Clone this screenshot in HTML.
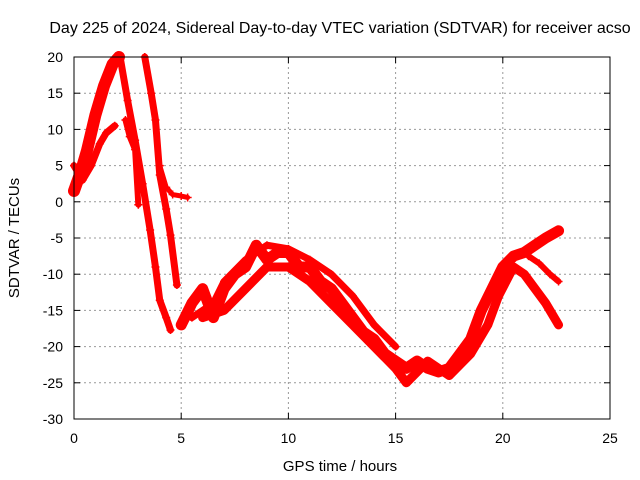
<!DOCTYPE html>
<html><head><meta charset="utf-8"><style>
body{margin:0;background:#fff}
svg{display:block;font-family:"Liberation Sans",sans-serif}
</style></head><body>
<svg id="chart" width="640" height="480" viewBox="0 0 640 480">
<rect width="640" height="480" fill="#fff"/>
<text x="340" y="33" font-size="16" text-anchor="middle">Day 225 of 2024, Sidereal Day-to-day VTEC variation (SDTVAR) for receiver acso</text>
<g id="grid"></g><g id="ticks"></g><g id="series"></g>
<rect x="74" y="57" width="536" height="362" fill="none" stroke="#000" stroke-width="1"/>
<text x="340" y="471" font-size="15" text-anchor="middle">GPS time / hours</text>
<text x="0" y="0" font-size="15" text-anchor="middle" transform="translate(19,238) rotate(-90)">SDTVAR / TECUs</text>
</svg>
<script>
const xTicks=[0,5,10,15,20,25];
const yTicks=[20,15,10,5,0,-5,-10,-15,-20,-25,-30];
const sA_h=[0,0.3,0.6,1.0,1.4,1.8,2.1];
const sA_v=[1.5,4,7,12,16,19,20];
const sA2_h=[0,0.4,0.8,1.2,1.5,1.9];
const sA2_v=[5,3,5,8,9.5,10.5];
const sB_h=[2.15,2.5,2.85,3.2,3.55,3.8,4.0,4.3,4.5];
const sB_v=[20,14,8.5,2.5,-3.9,-9,-13.6,-16,-17.7];
const sC_h=[3.3,3.6,3.8,4.0,4.3,4.5,4.8];
const sC_v=[20,15,11.3,3.7,-1,-4.6,-11.5];
const sD_h=[2.4,2.6,2.85,3.0];
const sD_v=[11.3,9,7.2,-0.4];
const sE_h=[4.0,4.3,4.6,5.0,5.3];
const sE_v=[5,2,1,0.8,0.6];
const sF_h=[5,5.5,6,6.5,7,7.5,8,8.5,9,9.5,10,10.5,11,11.5,12,12.5,13,13.5,14,14.5,15,15.5,16,16.5,17,17.5,18,18.5,19,19.5,20,20.5,21,21.5,22,22.6];
const sF_v=[-17,-14,-12,-16,-12,-10,-9,-6,-8,-7,-7,-9,-9,-11,-12,-14,-16,-18,-19,-21,-22,-23,-22,-23,-23.5,-23,-21,-19,-15,-12,-9,-7.5,-7,-6,-5,-4];
const sG_h=[6,7,8,9,10,11,12,13,14,15,15.5,16.5,17.5,18.5,19.3,19.8,20.5,21,21.5,22,22.6];
const sG_v=[-16,-15,-12,-9,-9,-11,-14,-17,-20,-23,-25,-22,-24,-21,-17,-13,-9,-10,-12,-14,-17];
const sH_h=[21.2,21.7,22.2,22.6];
const sH_v=[-7.5,-8.5,-10,-11];
const sI_h=[5.5,6.5,7,8,9,10,11,12,13,14,15];
const sI_v=[-16,-14,-11,-8,-6,-6.5,-8,-10,-13,-17,-20];
const allSeries=[[sA_h,sA_v,12],[sA2_h,sA2_v,7],[sB_h,sB_v,7],[sC_h,sC_v,7],[sD_h,sD_v,6],[sE_h,sE_v,5],[sF_h,sF_v,11],[sG_h,sG_v,9],[sH_h,sH_v,6],[sI_h,sI_v,7]];
const X=h=>74+h*536/25, Y=v=>57+(20-v)*362/50;
const NS="http://www.w3.org/2000/svg";
function mk(t,a,p){const e=document.createElementNS(NS,t);for(const k in a)e.setAttribute(k,a[k]);p.appendChild(e);return e;}
const grid=document.getElementById('grid'),ticks=document.getElementById('ticks'),ser=document.getElementById('series');
xTicks.forEach(t=>{const x=X(t);
 if(t>0&&t<25){const l=mk('line',{x1:x,y1:57,x2:x,y2:419,stroke:'#999','stroke-dasharray':'2,3'},grid);
 
 }
 const tx=mk('text',{x:x,y:443,'font-size':14,'text-anchor':'middle'},ticks);tx.textContent=t;
 
 
 mk('line',{x1:x,y1:419,x2:x,y2:413,stroke:'#000'},ticks);mk('line',{x1:x,y1:57,x2:x,y2:63,stroke:'#000'},ticks);});
yTicks.forEach(t=>{const y=Y(t);
 if(t<20&&t>-30){const l=mk('line',{x1:74,y1:y,x2:610,y2:y,stroke:'#999','stroke-dasharray':'2,3'},grid);
 
 }
 const tx=mk('text',{x:63,y:y+5,'font-size':14,'text-anchor':'end'},ticks);tx.textContent=t;
 
 
 mk('line',{x1:74,y1:y,x2:80,y2:y,stroke:'#000'},ticks);mk('line',{x1:610,y1:y,x2:604,y2:y,stroke:'#000'},ticks);});
allSeries.forEach(([hs,vs,w],i)=>{
 const pts=hs.map((h,j)=>X(h)+','+Y(vs[j])).join(' ');
 const pl=mk('polyline',{points:pts,fill:'none',stroke:'#f00','stroke-width':w,'stroke-linejoin':'round','stroke-linecap':'round'},ser);
 
 
 hs.forEach((h,j)=>{const x=X(h),y=Y(vs[j]);
  const p=mk('path',{d:`M${x-4},${y}H${x+4}M${x},${y-4}V${y+4}`,stroke:'#f00','stroke-width':1.5},ser);
  
  });
});
</script>
</body></html>
